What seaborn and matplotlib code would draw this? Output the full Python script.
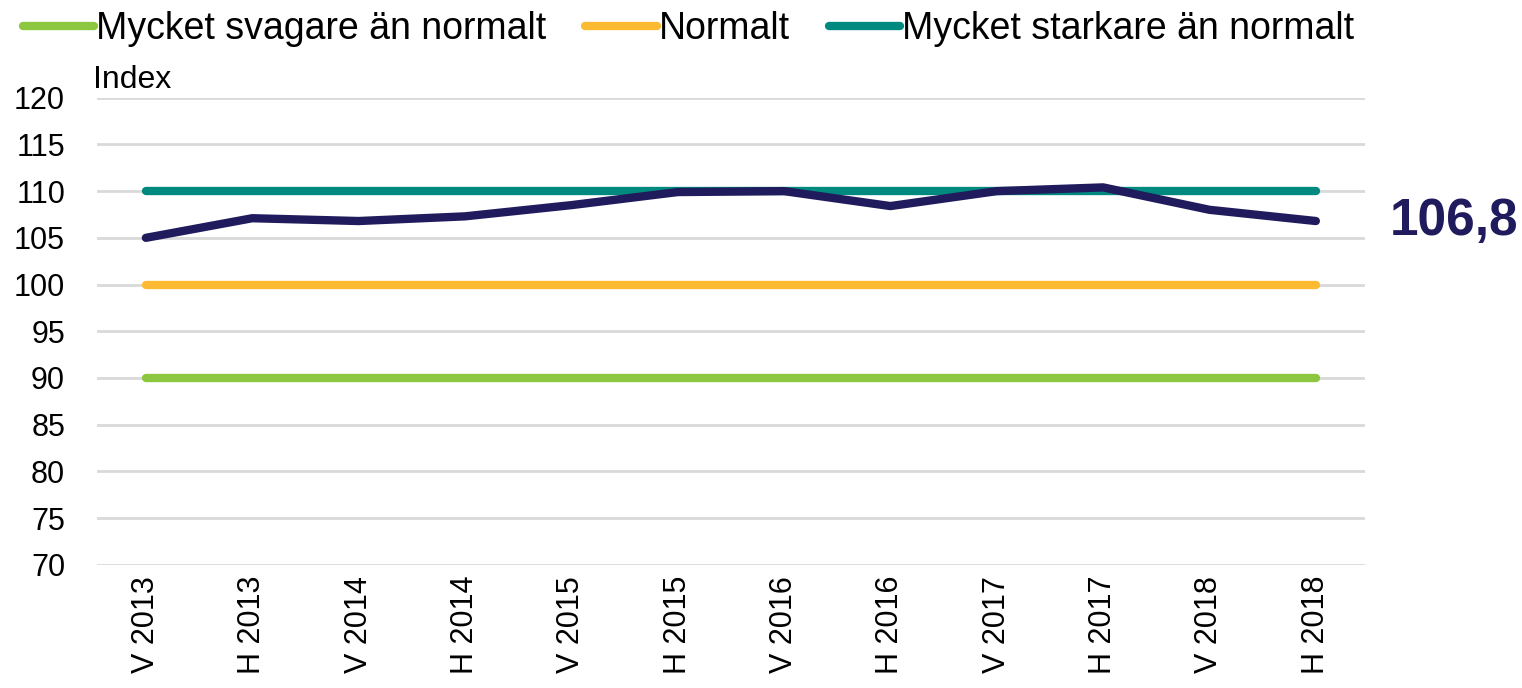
import pandas as pd
import matplotlib
matplotlib.use('Agg')
import matplotlib.pyplot as plt
import seaborn as sns

# Data
periods = ['V 2013', 'H 2013', 'V 2014', 'H 2014', 'V 2015', 'H 2015',
           'V 2016', 'H 2016', 'V 2017', 'H 2017', 'V 2018', 'H 2018']
index_values = [105.0, 107.1, 106.8, 107.3, 108.5, 109.9,
                110.0, 108.4, 110.0, 110.4, 108.0, 106.8]
much_weaker = [90] * 12
normal = [100] * 12
much_stronger = [110] * 12
last_label = '106,8'

ref_names = ['Mycket svagare än normalt', 'Normalt', 'Mycket starkare än normalt']
ref_colors = ['#8DC63F', '#FBBA31', '#00897F']
navy = '#201B5C'

df_ref = pd.DataFrame({
    'Period': periods * 3,
    'x': list(range(len(periods))) * 3,
    'Index': much_weaker + normal + much_stronger,
    'Serie': [ref_names[0]] * 12 + [ref_names[1]] * 12 + [ref_names[2]] * 12,
})
df_idx = pd.DataFrame({'x': range(len(periods)), 'Index': index_values})

sns.set_style('white')
plt.rcParams['font.family'] = ['Liberation Sans', 'DejaVu Sans']
plt.rcParams['text.color'] = 'black'
plt.rcParams['xtick.color'] = 'black'
plt.rcParams['ytick.color'] = 'black'

fig = plt.figure(figsize=(15.22, 6.88), dpi=100)
ax = fig.add_axes([0.0637, 0.179, 0.833, 0.679])

sns.lineplot(data=df_ref, x='x', y='Index', hue='Serie', hue_order=ref_names,
             palette=ref_colors, linewidth=6, solid_capstyle='round', ax=ax)
sns.lineplot(data=df_idx, x='x', y='Index', color=navy, linewidth=6,
             solid_capstyle='round', solid_joinstyle='round', ax=ax, legend=False)

ax.set_ylim(70, 120)
ax.set_xlim(-0.46, len(periods) - 1 + 0.46)
ax.set_yticks(range(70, 121, 5))
ax.set_xticks(range(len(periods)))
ax.set_xticklabels(periods, rotation=90, fontsize=22)
ax.tick_params(axis='y', labelsize=22, length=0, pad=23)
ax.tick_params(axis='x', length=0, pad=8)
ax.set_xlabel('')
ax.set_ylabel('')
ax.grid(axis='y', color='#D9D9D9', linewidth=2)
ax.grid(axis='x', visible=False)
ax.set_axisbelow(True)
for s in ax.spines.values():
    s.set_visible(False)

handles, labels = ax.get_legend_handles_labels()
ax.get_legend().remove()
fig.legend(handles, labels, loc='center left', bbox_to_anchor=(0.005, 1 - 29 / 688),
           ncol=3, frameon=False, fontsize=27, handlelength=1.9,
           handletextpad=0.05, columnspacing=1.05, borderaxespad=0)

fig.text(93 / 1522, 1 - 88 / 688, 'Index', fontsize=23, va='baseline', ha='left')
ax.annotate(last_label, xy=(len(periods) - 1, index_values[-1]), xytext=(1390 / 1522, 0),
            textcoords=('figure fraction', 'offset points'), va='center', ha='left',
            fontsize=37, fontweight='bold', color=navy)

fig.savefig('out.png', dpi=100)
